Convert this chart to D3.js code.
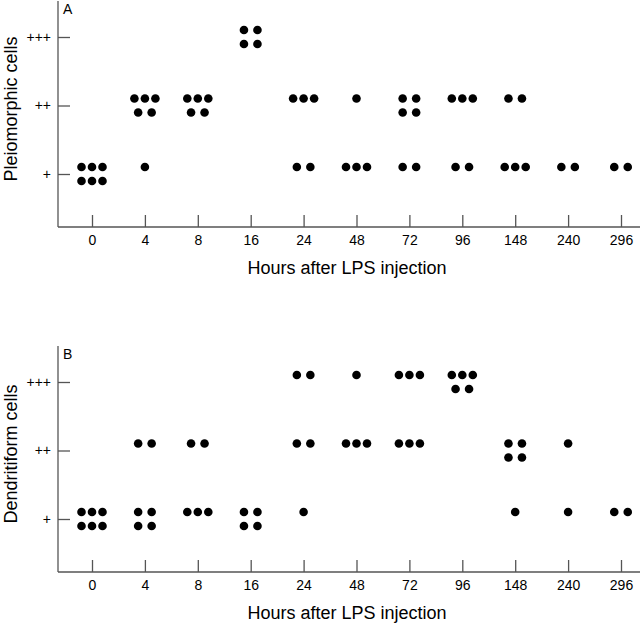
<!DOCTYPE html>
<html lang="en">
<head>
  <meta charset="UTF-8">
  <title>Pleiomorphic and dendritiform cells after LPS injection</title>
  <script src="https://d3js.org/d3.v7.min.js"></script>
  <style>
    body {
      margin: 0;
      background: #fff;
      font-family: "Liberation Sans", Arial, Helvetica, sans-serif;
    }
    .frame, .axis line {
      stroke: #555;
      stroke-width: 1.3;
    }
  </style>
</head>
<body>
  <div id="chart"></div>

  <script>
    // categories and grades
    const hours = ["0", "4", "8", "16", "24", "48", "72", "96", "148", "240", "296"];
    const grades = [1, 2, 3];
    const gradeLabels = ["+", "++", "+++"];

    // one entry per group of animals: [hour, grade, dots in each row]
    const pleiomorphic = [
      ["0", 1, [3, 3]],
      ["4", 2, [3, 2]], ["4", 1, [1]],
      ["8", 2, [3, 2]],
      ["16", 3, [2, 2]],
      ["24", 2, [3]], ["24", 1, [2]],
      ["48", 2, [1]], ["48", 1, [3]],
      ["72", 2, [2, 2]], ["72", 1, [2]],
      ["96", 2, [3]], ["96", 1, [2]],
      ["148", 2, [2]], ["148", 1, [3]],
      ["240", 1, [2]],
      ["296", 1, [2]]
    ];

    const dendritiform = [
      ["0", 1, [3, 3]],
      ["4", 2, [2]], ["4", 1, [2, 2]],
      ["8", 2, [2]], ["8", 1, [3]],
      ["16", 1, [2, 2]],
      ["24", 3, [2]], ["24", 2, [2]], ["24", 1, [1]],
      ["48", 3, [1]], ["48", 2, [3]],
      ["72", 3, [3]], ["72", 2, [3]],
      ["96", 3, [3, 2]],
      ["148", 2, [2, 2]], ["148", 1, [1]],
      ["240", 2, [1]], ["240", 1, [1]],
      ["296", 1, [2]]
    ];

    const W = 640, H = 623;
    const axisX = 58, axisTop = 1, axisBottom = 227;
    const fontStack = '"Liberation Sans", Arial, Helvetica, sans-serif';

    const svg = d3.select("#chart")
                  .append("svg")
                  .attr("width", W)
                  .attr("height", H);

    const x = d3.scalePoint()
                .domain(hours)
                .range([92, 621]);

    const y = d3.scaleLinear()
                .domain([1, 3])
                .range([174, 37]);

    function drawPanel(offset, data, letter, title) {
      const g = svg.append("g").attr("transform", `translate(0,${offset})`);

      // frame lines (left and bottom)
      g.append("line").attr("class", "frame")
       .attr("x1", axisX).attr("x2", axisX)
       .attr("y1", axisTop).attr("y2", axisBottom);
      g.append("line").attr("class", "frame")
       .attr("x1", axisX).attr("x2", W)
       .attr("y1", axisBottom).attr("y2", axisBottom);

      const xAxis = d3.axisBottom(x).tickSizeInner(-12).tickSizeOuter(0).tickPadding(8);
      g.append("g").attr("class", "axis")
       .attr("transform", `translate(0,${axisBottom})`)
       .call(xAxis)
       .call(s => s.select(".domain").remove())
       .call(s => s.selectAll("text")
                   .style("font-size", "14px")
                   .style("font-family", fontStack)
                   .attr("fill", "#000"));

      const yAxis = d3.axisLeft(y)
                      .tickValues(grades)
                      .tickFormat((d, i) => gradeLabels[i])
                      .tickSizeInner(-12).tickSizeOuter(0).tickPadding(7);
      g.append("g").attr("class", "axis")
       .attr("transform", `translate(${axisX},0)`)
       .call(yAxis)
       .call(s => s.select(".domain").remove())
       .call(s => s.selectAll("text")
                   .style("font-size", "14px")
                   .style("font-family", fontStack)
                   .attr("fill", "#000"));

      // panel letter
      g.append("text")
       .attr("x", 63).attr("y", 14)
       .style("font-size", "14px")
       .text(letter);

      // axis titles
      g.append("text")
       .attr("x", 347).attr("y", 274)
       .attr("text-anchor", "middle")
       .style("font-size", "18px")
       .text("Hours after LPS injection");

      g.append("text")
       .attr("transform", "translate(17,109) rotate(-90)")
       .attr("text-anchor", "middle")
       .style("font-size", "18px")
       .text(title);

      // expand groups into individual dots
      const dots = [];
      data.forEach(([h, grade, rows]) => {
        rows.forEach((n, r) => {
          for (let i = 0; i < n; i++) dots.push({h, grade, n, r, i});
        });
      });

      g.selectAll(".dot")
       .data(dots)
       .enter()
       .append("circle")
       .attr("class", "dot")
       .attr("cx", d => x(d.h) + (d.i - (d.n - 1) / 2) * (d.n === 3 ? 10.5 : 13.5))
       .attr("cy", d => y(d.grade) - 7 + d.r * 14)
       .attr("r", 4.3)
       .attr("fill", "#000");
    }

    drawPanel(0, pleiomorphic, "A", "Pleiomorphic cells");
    drawPanel(345, dendritiform, "B", "Dendritiform cells");
  </script>
</body>
</html>
